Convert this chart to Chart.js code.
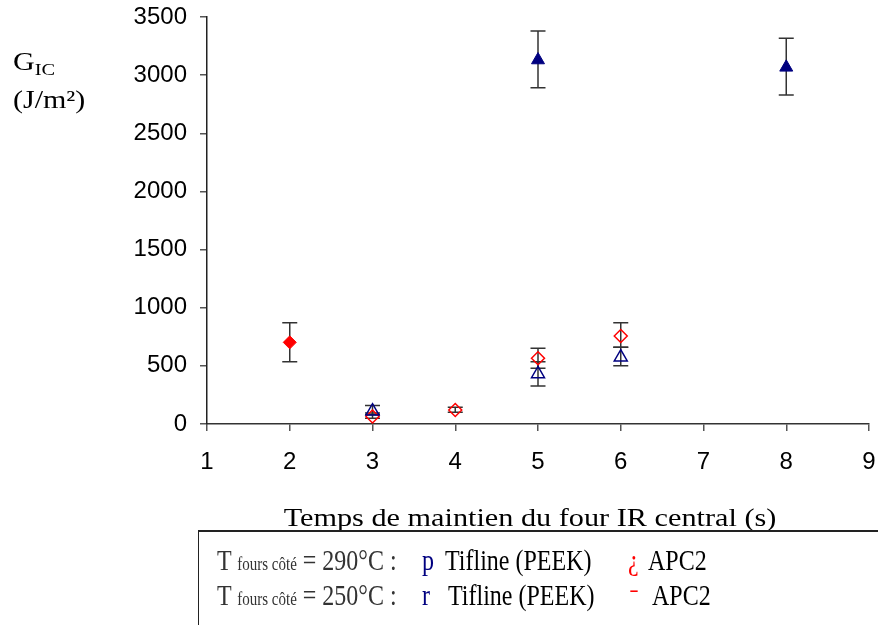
<!DOCTYPE html>
<html>
<head>
<meta charset="utf-8">
<script src="https://cdn.jsdelivr.net/npm/chart.js@4/dist/chart.umd.min.js"></script>
<style>
  html, body { margin: 0; padding: 0; background: #fff; }
  #wrap { position: relative; width: 878px; height: 625px; overflow: hidden; }
  #wrap canvas { position: absolute; left: 0; top: 0; }
  .serif { font-family: "Liberation Serif", "Times New Roman", serif; position: absolute; white-space: nowrap; }
  #ylab { left: 13px; top: 44px; font-size: 25px; color: #000; line-height: 35px;
          transform: scaleX(1.2); transform-origin: left top; }
  #ylab sub { font-size: 17px; vertical-align: baseline; position: relative; top: 5px; }
  #xtitle { left: 230px; width: 600px; top: 503px; font-size: 25px; line-height: 30px; text-align: center;
            transform: scaleX(1.21); transform-origin: center top; }
  #legendBox { position: absolute; left: 198px; top: 530px; width: 700px; height: 110px;
               border-top: 2px solid #222; border-left: 1px solid #222; }
  .row { position: absolute; font-size: 24px; line-height: 28px; transform: scaleY(1.2); transform-origin: left top; }
  .grey { color: #333; }
  .small { font-size: 15px; }
</style>
</head>
<body>
<div id="wrap">
  <canvas id="chart" width="878" height="625"></canvas>
  <div id="ylab" class="serif">G<sub>IC</sub><br>(J/m²)</div>
  <div id="xtitle" class="serif">Temps de maintien du four IR central (s)</div>
  <div id="legendBox"></div>
  <div class="serif row grey" style="left:217px; top:544px;">T <span class="small">fours côté</span> = 290°C :</div>
  <div class="serif row" style="left:422px; top:544px; color:#000080;">p</div>
  <div class="serif row" style="left:445px; top:544px;">Tifline (PEEK)</div>
  <div class="serif row" style="left:628px; top:544px; color:#ff0000;">¿</div>
  <div class="serif row" style="left:648px; top:544px;">APC2</div>
  <div class="serif row grey" style="left:217px; top:579px;">T <span class="small">fours côté</span> = 250°C :</div>
  <div class="serif row" style="left:422px; top:579px; color:#000080;">r</div>
  <div class="serif row" style="left:448px; top:579px;">Tifline (PEEK)</div>
  <div class="serif row" style="left:630px; top:583px; color:#ff0000;">ˉ</div>
  <div class="serif row" style="left:652px; top:579px;">APC2</div>
</div>
<script>
// valeurs
const xTicks = [1, 2, 3, 4, 5, 6, 7, 8, 9];
const yTicks = [0, 500, 1000, 1500, 2000, 2500, 3000, 3500];

// T fours côté = 290°C
const tif290X = [3, 5, 6];
const tif290Y = [110, 430, 575];
const tif290Lo = [80, 327, 501];
const tif290Hi = [160, 536, 660];

const apc290X = [3, 4, 5, 6];
const apc290Y = [65, 120, 565, 757];
const apc290Lo = [50, 100, 479, 660];
const apc290Hi = [95, 143, 651, 871];

// T fours côté = 250°C
const tif250X = [5, 8];
const tif250Y = [3130, 3067];
const tif250Lo = [2892, 2829];
const tif250Hi = [3380, 3317];

const apc250X = [2];
const apc250Y = [702];
const apc250Lo = [536];
const apc250Hi = [871];

const NAVY = '#000080';
const RED = '#ff0000';

function pts(xs, ys) {
    return xs.map((x, i) => ({ x: x, y: ys[i] }));
}

// barres d'erreur dessinées avant les marqueurs
const errorBars = {
    id: 'errorBars',
    beforeDatasetsDraw(chart) {
        const ctx = chart.ctx;
        const yScale = chart.scales.y;
        ctx.save();
        ctx.strokeStyle = '#333';
        ctx.lineWidth = 1.5;
        chart.data.datasets.forEach((ds, di) => {
            const meta = chart.getDatasetMeta(di);
            meta.data.forEach((p, i) => {
                const top = yScale.getPixelForValue(ds.errHi[i]);
                const bot = yScale.getPixelForValue(ds.errLo[i]);
                ctx.beginPath();
                ctx.moveTo(p.x, top); ctx.lineTo(p.x, bot);
                ctx.moveTo(p.x - 7.5, top); ctx.lineTo(p.x + 7.5, top);
                ctx.moveTo(p.x - 7.5, bot); ctx.lineTo(p.x + 7.5, bot);
                ctx.stroke();
            });
        });
        ctx.restore();
    }
};

const tickFont = { family: "'Liberation Sans', Arial, sans-serif", size: 24 };

new Chart(document.getElementById('chart').getContext('2d'), {
    type: 'scatter',
    data: {
        datasets: [
            { label: 'Tifline (PEEK) 290', data: pts(tif290X, tif290Y), errLo: tif290Lo, errHi: tif290Hi,
              pointStyle: 'triangle', radius: 7.5, borderColor: NAVY, backgroundColor: 'rgba(0,0,0,0)', borderWidth: 1.5 },
            { label: 'APC2 290', data: pts(apc290X, apc290Y), errLo: apc290Lo, errHi: apc290Hi,
              pointStyle: 'rectRot', radius: 6.5, borderColor: RED, backgroundColor: 'rgba(0,0,0,0)', borderWidth: 1.5 },
            { label: 'Tifline (PEEK) 250', data: pts(tif250X, tif250Y), errLo: tif250Lo, errHi: tif250Hi,
              pointStyle: 'triangle', radius: 7.5, borderColor: NAVY, backgroundColor: NAVY, borderWidth: 1 },
            { label: 'APC2 250', data: pts(apc250X, apc250Y), errLo: apc250Lo, errHi: apc250Hi,
              pointStyle: 'rectRot', radius: 6.5, borderColor: RED, backgroundColor: RED, borderWidth: 1 }
        ]
    },
    options: {
        responsive: false,
        animation: false,
        layout: { autoPadding: false, padding: { left: 0, top: 17, right: 9, bottom: 141 } },
        plugins: { legend: { display: false }, tooltip: { enabled: false } },
        scales: {
            x: {
                type: 'linear', min: 1, max: 9,
                afterBuildTicks: s => { s.ticks = xTicks.map(v => ({ value: v })); },
                // taille fixe, pas de débordement des étiquettes
                afterFit: s => { s.height = 60; s.paddingLeft = 0; s.paddingRight = 0; },
                ticks: { color: '#000', font: tickFont, padding: 17, callback: v => String(v) },
                grid: { drawOnChartArea: false, drawTicks: true, tickLength: 7, color: '#555', lineWidth: 1.5 },
                border: { display: true, color: '#333', width: 1.5 }
            },
            y: {
                type: 'linear', min: 0, max: 3500,
                afterBuildTicks: s => { s.ticks = yTicks.map(v => ({ value: v })); },
                afterFit: s => { s.width = 207; s.paddingTop = 0; s.paddingBottom = 0; },
                ticks: { color: '#000', font: tickFont, padding: 13, callback: v => String(v) },
                grid: { drawOnChartArea: false, drawTicks: true, tickLength: 7, color: '#555', lineWidth: 1.5 },
                border: { display: true, color: '#222', width: 1.5 }
            }
        }
    },
    plugins: [errorBars]
});
</script>
</body>
</html>
